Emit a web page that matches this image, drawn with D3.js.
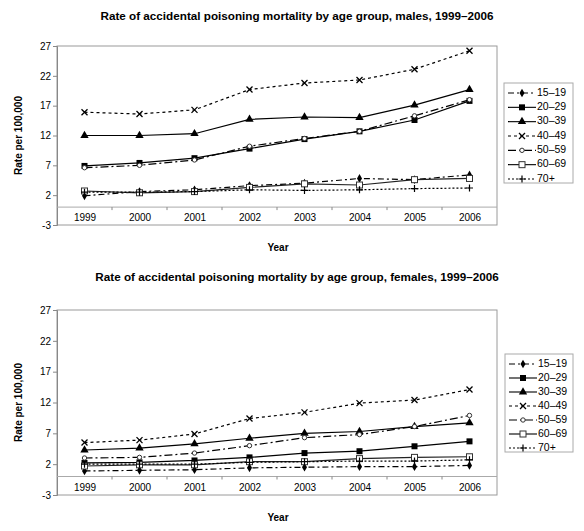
<!DOCTYPE html>
<html><head><meta charset="utf-8">
<script src="https://cdn.jsdelivr.net/npm/d3@7"></script>
<style>
body{margin:0;background:#fff;}
text{font-family:Arial,"Liberation Sans",sans-serif;fill:#000;}
</style></head>
<body>
<svg id="chart" width="584" height="531"></svg>
<script>
const years = ["1999","2000","2001","2002","2003","2004","2005","2006"];
const groups = ["15–19","20–29","30–39","40–49","50–59","60–69","70+"];
const yTicks = [-3,2,7,12,17,22,27];

const male15_19 = [1.9, 2.6, 2.9, 3.6, 4.0, 4.8, 4.6, 5.4];
const male20_29 = [6.9, 7.4, 8.2, 9.8, 11.4, 12.7, 14.6, 17.8];
const male30_39 = [12.0, 12.0, 12.3, 14.7, 15.1, 15.0, 17.1, 19.7];
const male40_49 = [15.9, 15.6, 16.3, 19.7, 20.8, 21.3, 23.1, 26.2];
const male50_59 = [6.6, 7.0, 7.9, 10.2, 11.5, 12.7, 15.3, 18.0];
const male60_69 = [2.7, 2.4, 2.6, 3.3, 3.9, 3.7, 4.6, 4.8];
const male70 = [2.5, 2.5, 2.6, 2.9, 2.8, 2.9, 3.1, 3.2];

const female15_19 = [0.9, 1.0, 1.1, 1.4, 1.5, 1.6, 1.6, 1.8];
const female20_29 = [2.2, 2.3, 2.6, 3.1, 3.8, 4.1, 4.9, 5.7];
const female30_39 = [4.3, 4.6, 5.3, 6.2, 7.0, 7.3, 8.1, 8.7];
const female40_49 = [5.5, 5.9, 6.9, 9.4, 10.4, 11.9, 12.4, 14.1];
const female50_59 = [3.0, 3.1, 3.8, 5.0, 6.3, 6.8, 8.1, 9.9];
const female60_69 = [1.7, 1.9, 1.9, 2.4, 2.4, 2.9, 3.1, 3.2];
const female70 = [2.0, 2.0, 2.0, 2.3, 2.4, 2.5, 2.5, 2.7];

const maleSeries = [male15_19, male20_29, male30_39, male40_49, male50_59, male60_69, male70];
const femaleSeries = [female15_19, female20_29, female30_39, female40_49, female50_59, female60_69, female70];

// styles per group
const dashes = ["6,3,2,3", null, null, "3,3", "8,3,2,3", null, "2,2"];
const markers = ["diamond","fsquare","triangle","x","circle","osquare","plus"];

const svg = d3.select("#chart");

function drawMarker(g, type, x, y) {
  if (type === "diamond") {
    g.append("path").attr("d", d3.symbol(d3.symbolDiamond, 22)()).attr("transform", `translate(${x},${y})`).attr("fill", "#000");
  } else if (type === "fsquare") {
    g.append("path").attr("d", d3.symbol(d3.symbolSquare, 36)()).attr("transform", `translate(${x},${y})`).attr("fill", "#000");
  } else if (type === "triangle") {
    g.append("path").attr("d", d3.symbol(d3.symbolTriangle, 30)()).attr("transform", `translate(${x},${y})`).attr("fill", "#000");
  } else if (type === "x") {
    g.append("path").attr("d", "M-3,-3L3,3M-3,3L3,-3").attr("transform", `translate(${x},${y})`).attr("stroke", "#000").attr("stroke-width", 1.3).attr("fill", "none");
  } else if (type === "circle") {
    g.append("circle").attr("cx", x).attr("cy", y).attr("r", 2.2).attr("fill", "#fff").attr("stroke", "#333").attr("stroke-width", 1);
  } else if (type === "osquare") {
    g.append("rect").attr("x", x - 3).attr("y", y - 3).attr("width", 6).attr("height", 6).attr("fill", "#fff").attr("stroke", "#333").attr("stroke-width", 1);
  } else if (type === "plus") {
    g.append("path").attr("d", "M-3.5,0L3.5,0M0,-3.5L0,3.5").attr("transform", `translate(${x},${y})`).attr("stroke", "#000").attr("stroke-width", 1.2).attr("fill", "none");
  }
}

function drawChart(cfg) {
  const {title, series, top, bottom, titleY, yearY, legend} = cfg;
  const left = 57, right = 497;
  const g = svg.append("g");

  const x = d3.scalePoint().domain(years).range([left, right]).padding(0.5);
  const xb = d3.scaleBand().domain(years).range([left, right]);
  const y = d3.scaleLinear().domain([-3, 27]).range([bottom, top]);

  // title
  g.append("text").attr("x", 297).attr("y", titleY).attr("text-anchor", "middle")
    .attr("dominant-baseline", "middle").attr("font-size", "11.7px").attr("font-weight", "bold").text(title);

  // plot frame
  g.append("rect").attr("x", left).attr("y", top).attr("width", right - left).attr("height", bottom - top)
    .attr("fill", "none").attr("stroke", "#9a9a9a").attr("stroke-width", 1);

  // y axis
  const ya = d3.axisLeft(y).tickValues(yTicks).tickSize(4).tickFormat(d => String(d));
  const yag = g.append("g").attr("transform", `translate(${left},0)`).call(ya);
  yag.select(".domain").attr("stroke", "#888");
  yag.selectAll(".tick line").attr("stroke", "#888");
  yag.selectAll(".tick text").attr("font-size", "10px").attr("font-family", "Arial,'Liberation Sans',sans-serif").attr("fill", "#000").attr("x", -6);

  // x axis at zero
  const xa = d3.axisBottom(x).tickSize(0).tickFormat(d => d);
  const xag = g.append("g").attr("transform", `translate(0,${y(0)})`).call(xa);
  xag.select(".domain").attr("stroke", "#aaa").attr("d", `M${left},0H${right}`);
  xag.selectAll(".tick text").attr("font-size", "10px").attr("font-family", "Arial,'Liberation Sans',sans-serif").attr("fill", "#000").attr("dy", "1.1em");
  // tick marks at band boundaries
  g.selectAll(null).data(years.slice(1)).enter().append("line")
    .attr("x1", d => xb(d)).attr("x2", d => xb(d))
    .attr("y1", y(0)).attr("y2", y(0) + 3).attr("stroke", "#888");

  // y label
  g.append("text").attr("transform", `translate(19,${(top + bottom) / 2}) rotate(-90)`)
    .attr("text-anchor", "middle").attr("dominant-baseline", "middle")
    .attr("font-size", "10px").attr("font-weight", "bold").text("Rate per 100,000");
  // x label
  g.append("text").attr("x", 278).attr("y", yearY).attr("text-anchor", "middle").attr("dominant-baseline", "middle")
    .attr("font-size", "10px").attr("font-weight", "bold").text("Year");

  const line = d3.line().x((d, i) => x(years[i])).y(d => y(d));

  series.forEach((vals, k) => {
    g.append("path").datum(vals).attr("d", line).attr("fill", "none")
      .attr("stroke", k === 5 ? "#222" : "#000").attr("stroke-width", 1.2)
      .attr("stroke-dasharray", dashes[k]);
  });
  series.forEach((vals, k) => {
    vals.forEach((v, i) => drawMarker(g, markers[k], x(years[i]), y(v)));
  });

  // legend
  const lg = g.append("g");
  lg.append("rect").attr("x", legend.x0).attr("y", legend.y0).attr("width", legend.x1 - legend.x0)
    .attr("height", legend.y1 - legend.y0).attr("fill", "#fff").attr("stroke", "#aaa");
  const step = (legend.y1 - legend.y0 - 14) / 6;
  groups.forEach((name, k) => {
    const ly = legend.y0 + 10 + k * step;
    lg.append("line").attr("x1", legend.x0 + 4).attr("x2", legend.x0 + 32).attr("y1", ly).attr("y2", ly)
      .attr("stroke", "#000").attr("stroke-width", 1.1).attr("stroke-dasharray", dashes[k]);
    drawMarker(lg, markers[k], legend.x0 + 18, ly);
    lg.append("text").attr("x", legend.x0 + 33).attr("y", ly).attr("dominant-baseline", "middle")
      .attr("font-size", "10.5px").text(name);
  });
}

drawChart({
  title: "Rate of accidental poisoning mortality by age group, males, 1999–2006",
  series: maleSeries, top: 46, bottom: 225, titleY: 17, yearY: 248,
  legend: {x0: 504, y0: 83, x1: 573, y1: 183}
});
drawChart({
  title: "Rate of accidental poisoning mortality by age group, females, 1999–2006",
  series: femaleSeries, top: 310, bottom: 495, titleY: 278, yearY: 518,
  legend: {x0: 505, y0: 354, x1: 573, y1: 452}
});
</script>
</body></html>
